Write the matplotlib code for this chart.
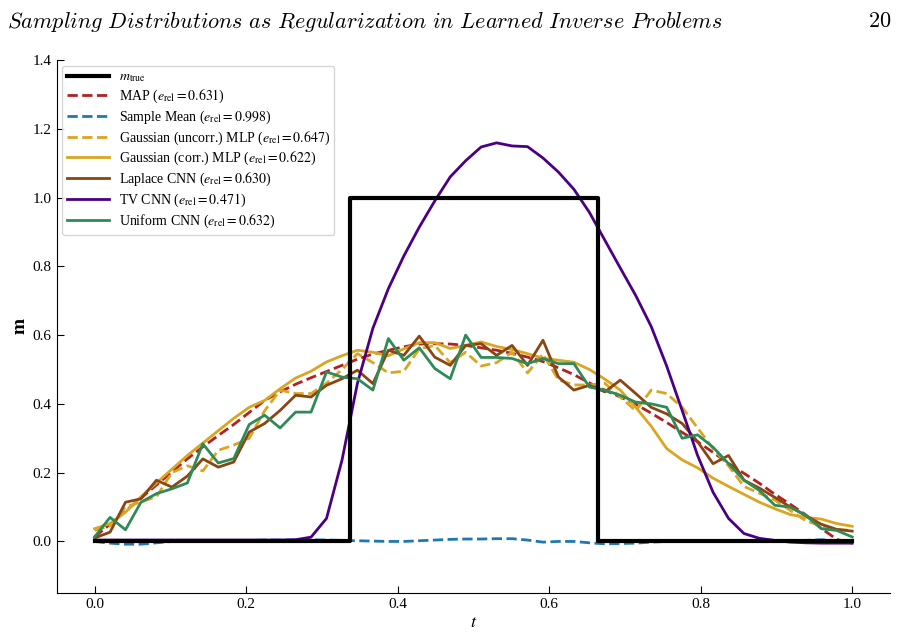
import numpy as np
import matplotlib
matplotlib.use("Agg")
import matplotlib.pyplot as plt

plt.rcParams['font.family'] = ['Liberation Serif', 'DejaVu Serif']
plt.rcParams['mathtext.fontset'] = 'stix'

# grid of 50 points on [0, 1]
t = np.linspace(0, 1, 50)

# true model: box between ~1/3 and ~2/3
t_true = [0.0, 0.337, 0.337, 0.664, 0.664, 1.0]
m_true = [0.0, 0.0, 1.0, 1.0, 0.0, 0.0]

m_map = [0.013, 0.05, 0.088, 0.126, 0.164, 0.202, 0.24, 0.275, 0.308, 0.34,
         0.375, 0.41, 0.435, 0.457, 0.476, 0.494, 0.512, 0.53, 0.545, 0.556,
         0.566, 0.574, 0.575, 0.574, 0.57, 0.563, 0.556, 0.547, 0.536, 0.523,
         0.505, 0.485, 0.461, 0.44, 0.42, 0.399, 0.373, 0.346, 0.317, 0.29,
         0.259, 0.227, 0.198, 0.169, 0.137, 0.108, 0.077, 0.038, 0.006, -0.006]

m_mean = [0.0, -0.005, -0.008, -0.008, -0.004, 0.0, 0.002, 0.002, 0.003, 0.003,
          0.003, 0.004, 0.004, 0.004, 0.005, 0.004, 0.003, 0.002, 0.001, 0.0,
          0.0, 0.002, 0.004, 0.006, 0.007, 0.007, 0.008, 0.008, 0.004, -0.002,
          0.0, 0.0, -0.004, -0.007, -0.006, -0.005, -0.002, 0.0, 0.0, 0.0,
          0.0, 0.0, 0.001, 0.001, 0.0, 0.0, 0.003, 0.005, 0.002, 0.0]

m_gauss_unc = [0.032, 0.045, 0.1, 0.115, 0.13, 0.2, 0.22, 0.205, 0.265, 0.28,
               0.3, 0.38, 0.44, 0.43, 0.43, 0.46, 0.5, 0.546, 0.52, 0.49,
               0.495, 0.56, 0.57, 0.52, 0.55, 0.51, 0.52, 0.55, 0.49, 0.545,
               0.47, 0.455, 0.455, 0.46, 0.42, 0.38, 0.44, 0.43, 0.39, 0.33,
               0.27, 0.22, 0.16, 0.14, 0.12, 0.09, 0.06, 0.045, 0.035, 0.032]

m_gauss_cor = [0.037, 0.052, 0.085, 0.13, 0.17, 0.21, 0.25, 0.286, 0.322, 0.358,
               0.39, 0.41, 0.444, 0.475, 0.495, 0.522, 0.54, 0.556, 0.55, 0.54,
               0.56, 0.578, 0.578, 0.561, 0.57, 0.58, 0.567, 0.558, 0.546, 0.533,
               0.527, 0.521, 0.5, 0.472, 0.44, 0.39, 0.335, 0.27, 0.237, 0.214,
               0.184, 0.16, 0.137, 0.114, 0.095, 0.078, 0.07, 0.065, 0.052, 0.044]

m_laplace = [0.01, 0.027, 0.114, 0.124, 0.178, 0.158, 0.19, 0.24, 0.216, 0.231,
             0.318, 0.343, 0.381, 0.425, 0.42, 0.454, 0.473, 0.498, 0.459, 0.556,
             0.541, 0.597, 0.536, 0.512, 0.57, 0.575, 0.541, 0.57, 0.512, 0.585,
             0.478, 0.44, 0.454, 0.435, 0.469, 0.43, 0.39, 0.371, 0.343, 0.29,
             0.226, 0.25, 0.178, 0.155, 0.128, 0.1, 0.075, 0.05, 0.035, 0.03]

m_tv = [0.004, 0.004, 0.004, 0.004, 0.004, 0.004, 0.004, 0.004, 0.004, 0.004,
        0.004, 0.004, 0.004, 0.005, 0.0125, 0.067, 0.236, 0.46, 0.62, 0.735,
        0.83, 0.914, 0.99, 1.06, 1.107, 1.147, 1.159, 1.15, 1.148, 1.115,
        1.074, 1.024, 0.957, 0.876, 0.795, 0.715, 0.625, 0.51, 0.381, 0.25,
        0.143, 0.067, 0.023, 0.009, 0.003, -0.002, -0.004, -0.005, -0.005, -0.005]

m_uniform = [0.013, 0.07, 0.034, 0.114, 0.139, 0.153, 0.17, 0.284, 0.228, 0.241,
             0.34, 0.367, 0.33, 0.376, 0.376, 0.493, 0.478, 0.473, 0.44, 0.59,
             0.527, 0.563, 0.503, 0.473, 0.6, 0.535, 0.535, 0.532, 0.517, 0.532,
             0.517, 0.517, 0.449, 0.44, 0.425, 0.405, 0.4, 0.39, 0.3, 0.31,
             0.274, 0.226, 0.178, 0.148, 0.105, 0.1, 0.076, 0.037, 0.032, 0.013]

errors = {'map': 0.631, 'mean': 0.998, 'gunc': 0.647, 'gcor': 0.622,
          'lap': 0.630, 'tv': 0.471, 'uni': 0.632}


def lab(name, e):
    return name + r' ($e_{\rm rel} = %.3f$)' % e


fig = plt.figure(figsize=(9, 6.38), dpi=100)
ax = fig.add_axes([0.063, 0.0705, 0.926, 0.8355])

lw = 2.0
ax.plot(t_true, m_true, color='black', lw=3.0, label=r'$m_{\rm true}$', zorder=5)
ax.plot(t, m_map, '--', color='#b22222', lw=lw, label=lab('MAP', errors['map']))
ax.plot(t, m_mean, '--', color='#1f77b4', lw=lw, label=lab('Sample Mean', errors['mean']))
ax.plot(t, m_gauss_unc, '--', color='#daa520', lw=lw,
        label=lab('Gaussian (uncorr.) MLP', errors['gunc']))
ax.plot(t, m_gauss_cor, '-', color='#daa520', lw=lw,
        label=lab('Gaussian (corr.) MLP', errors['gcor']))
ax.plot(t, m_laplace, '-', color='#8b4513', lw=lw, label=lab('Laplace CNN', errors['lap']))
ax.plot(t, m_tv, '-', color='#4b0082', lw=lw, label=lab('TV CNN', errors['tv']))
ax.plot(t, m_uniform, '-', color='#2e8b57', lw=lw, label=lab('Uniform CNN', errors['uni']))

ax.set_xlim(-0.05, 1.05)
ax.set_ylim(-0.15, 1.4)
ax.set_xticks([0.0, 0.2, 0.4, 0.6, 0.8, 1.0])
ax.set_yticks([0.0, 0.2, 0.4, 0.6, 0.8, 1.0, 1.2, 1.4])
ax.tick_params(direction='in', length=5, labelsize=11)
ax.spines['top'].set_visible(False)
ax.spines['right'].set_visible(False)
ax.set_xlabel(r'$t$', fontsize=13, labelpad=2)
ax.set_ylabel(r'$\mathbf{m}$', fontsize=14, labelpad=3)

ax.legend(loc='upper left', fontsize=10, frameon=True, handlelength=3.0,
          handletextpad=0.7, borderaxespad=0.4, labelspacing=0.25,
          borderpad=0.35)

# page header
fig.text(0.008, 0.965, r'$\mathit{Sampling\ Distributions\ as\ Regularization\ in\ Learned\ Inverse\ Problems}$',
         fontsize=16, math_fontfamily='cm', va='center', ha='left')
fig.text(0.99, 0.965, r'$\mathrm{20}$', fontsize=16, math_fontfamily='cm',
         va='center', ha='right')

fig.savefig('out.png', dpi=100)
